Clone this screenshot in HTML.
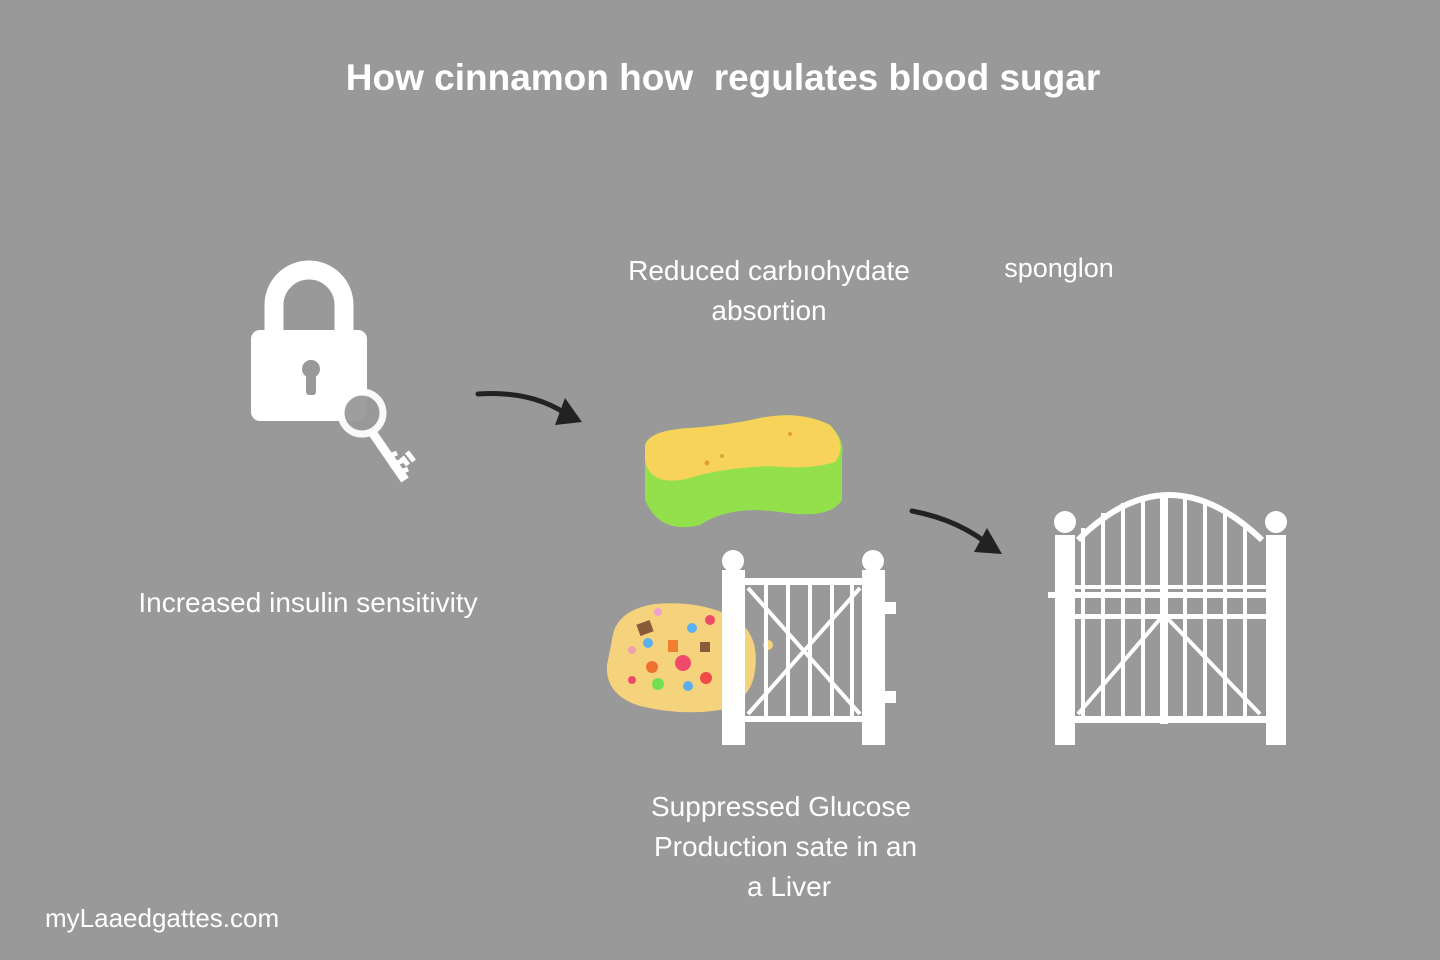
<!DOCTYPE html>
<html><head><meta charset="utf-8"><style>
html,body{margin:0;padding:0;background:#999999;}
body{width:1440px;height:960px;position:relative;overflow:hidden;font-family:"Liberation Sans","DejaVu Sans",sans-serif;color:#fff;}
.t{position:absolute;white-space:nowrap;text-align:center;}
.l{position:absolute;white-space:nowrap;font-size:28px;}
</style></head><body>
<svg width="1440" height="960" style="position:absolute;left:0;top:0">
<!-- lock -->
<path d="M274 335 V305 A35 35 0 0 1 344 305 V335" fill="none" stroke="#fff" stroke-width="19"/>
<rect x="251" y="330" width="116" height="91" rx="9" fill="#fff"/>
<circle cx="311" cy="369" r="9" fill="#999"/>
<rect x="306" y="370" width="10" height="25" rx="3" fill="#999"/>
<!-- key -->
<circle cx="362" cy="413" r="21" fill="#999" stroke="#fff" stroke-width="7" opacity="0.95"/>
<line x1="372" y1="432" x2="405" y2="480" stroke="#fff" stroke-width="9"/>
<path d="M385 458 l12 -5 M390 466 l14 -6 M396 474 l12 -5 M402 457 l6 8 M407 452 l7 9" stroke="#fff" stroke-width="5"/>
<!-- arrows -->
<path d="M478 394 Q535 390 572 418" fill="none" stroke="#222" stroke-width="5" stroke-linecap="round"/>
<path d="M565 398 L582 422 L555 425 Z" fill="#222"/>
<path d="M912 511 Q960 520 993 548" fill="none" stroke="#222" stroke-width="5" stroke-linecap="round"/>
<path d="M987 528 L1002 554 L974 552 Z" fill="#222"/>
<!-- sponge -->
<path d="M645 445 Q650 430 690 428 Q730 425 760 418 Q800 410 830 425 Q845 440 842 455 L842 500 Q830 520 780 512 Q730 505 700 525 Q660 535 645 500 Z" fill="#94e04c"/>
<path d="M645 445 Q650 430 690 428 Q730 425 760 418 Q800 410 830 425 Q848 445 835 462 Q810 470 770 466 Q720 468 690 478 Q650 488 645 460 Z" fill="#f7d35a"/>
<circle cx="707" cy="463" r="2.5" fill="#e0a030"/><circle cx="722" cy="456" r="2" fill="#e0a030"/><circle cx="790" cy="434" r="2" fill="#e0a030"/>
<!-- food blob -->
<path d="M612 640 Q615 610 655 604 Q700 600 735 618 Q760 635 755 670 Q752 700 720 710 Q680 716 640 706 Q605 695 607 665 Z" fill="#f5d27c"/>
<rect x="638" y="622" width="14" height="12" fill="#8b5a3a" transform="rotate(-20 645 628)"/>
<rect x="700" y="642" width="10" height="10" fill="#8b5a3a"/>
<rect x="668" y="640" width="10" height="12" fill="#f08030"/>
<circle cx="683" cy="663" r="8" fill="#f04a6a"/>
<circle cx="648" cy="643" r="5" fill="#5ab0f0"/>
<circle cx="692" cy="628" r="5" fill="#5ab0f0"/>
<circle cx="710" cy="620" r="5" fill="#f04a6a"/>
<circle cx="652" cy="667" r="6" fill="#f07030"/>
<circle cx="658" cy="684" r="6" fill="#70e050"/>
<circle cx="706" cy="678" r="6" fill="#f04a4a"/>
<circle cx="688" cy="686" r="5" fill="#5ab0f0"/>
<circle cx="632" cy="680" r="4" fill="#f04a6a"/>
<circle cx="632" cy="650" r="4" fill="#f0a0b0"/>
<circle cx="658" cy="612" r="4" fill="#f0a0d0"/>
<circle cx="768" cy="645" r="5" fill="#f5d27c"/>
<!-- small gate -->
<g fill="#fff" stroke="#fff">
<circle cx="733" cy="561" r="11" stroke="none"/><circle cx="873" cy="561" r="11" stroke="none"/>
<rect x="722" y="570" width="23" height="175" stroke="none"/>
<rect x="862" y="570" width="23" height="175" stroke="none"/>
<rect x="745" y="578" width="117" height="7" stroke="none"/>
<rect x="745" y="716" width="117" height="6" stroke="none"/>
<g stroke-width="4"><line x1="766" y1="585" x2="766" y2="716"/><line x1="788" y1="585" x2="788" y2="716"/><line x1="810" y1="585" x2="810" y2="716"/><line x1="832" y1="585" x2="832" y2="716"/><line x1="852" y1="585" x2="852" y2="716"/>
<line x1="748" y1="588" x2="860" y2="714"/><line x1="860" y1="588" x2="748" y2="714"/></g>
<rect x="885" y="602" width="11" height="12" stroke="none"/><rect x="885" y="691" width="11" height="12" stroke="none"/>
</g>
<!-- big gate -->
<g fill="#fff" stroke="#fff">
<circle cx="1065" cy="522" r="11" stroke="none"/><circle cx="1276" cy="522" r="11" stroke="none"/>
<rect x="1055" y="535" width="20" height="210" stroke="none"/>
<rect x="1266" y="535" width="20" height="210" stroke="none"/>
<path d="M1078 540 Q1168 450 1262 540" fill="none" stroke-width="6"/>
<rect x="1048" y="592" width="218" height="6" stroke="none"/>
<rect x="1075" y="585" width="191" height="4" stroke="none"/>
<rect x="1075" y="614" width="191" height="5" stroke="none"/>
<rect x="1075" y="716" width="191" height="7" stroke="none"/>
<rect x="1160" y="494" width="8" height="230" stroke="none"/>
<g stroke-width="4">
<line x1="1083" y1="528" x2="1083" y2="716"/><line x1="1103" y1="513" x2="1103" y2="716"/><line x1="1123" y1="503" x2="1123" y2="716"/><line x1="1143" y1="497" x2="1143" y2="716"/>
<line x1="1185" y1="497" x2="1185" y2="716"/><line x1="1205" y1="503" x2="1205" y2="716"/><line x1="1225" y1="512" x2="1225" y2="716"/><line x1="1245" y1="525" x2="1245" y2="716"/>
<line x1="1160" y1="619" x2="1078" y2="714"/><line x1="1168" y1="619" x2="1260" y2="714"/></g>
</g>
<circle cx="1153" cy="604" r="3" fill="#999"/>
</svg>
<div class="t" style="left:0;width:1446px;top:57px;font-size:37px;font-weight:bold;">How cinnamon how&nbsp; regulates blood sugar</div>
<div class="t" style="left:569px;width:400px;top:251px;font-size:28px;line-height:40px;">Reduced carbıohydate<br>absortion</div>
<div class="t" style="left:959px;width:200px;top:253px;font-size:27px;">sponglon</div>
<div class="t" style="left:108px;width:400px;top:587px;font-size:28px;">Increased insulin sensitivity</div>
<div class="l" style="left:651px;top:791px;">Suppressed Glucose</div>
<div class="l" style="left:654px;top:831px;">Production sate in an</div>
<div class="l" style="left:747px;top:871px;">a Liver</div>
<div class="t" style="left:45px;top:903px;font-size:26px;text-align:left;">myLaaedgattes.com</div>
</body></html>
